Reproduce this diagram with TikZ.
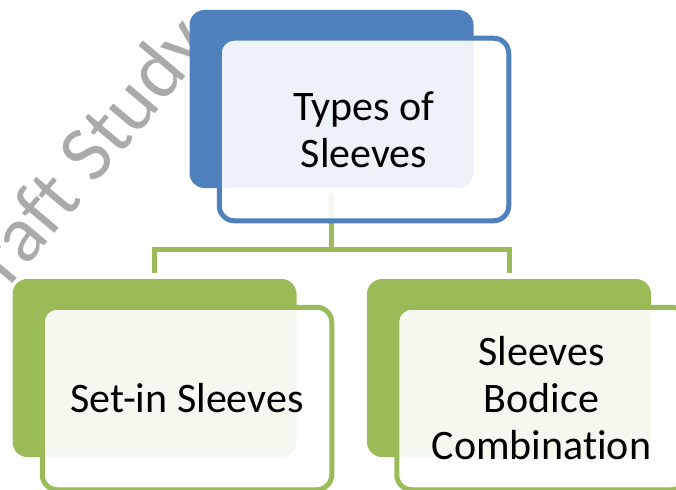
\documentclass[tikz,border=0pt]{standalone}
\usepackage{fontspec}
\setmainfont{Carlito}[Ligatures=NoCommon]
\definecolor{blueA}{RGB}{79,129,189}
\definecolor{greenA}{RGB}{155,187,89}
\definecolor{wmgray}{RGB}{170,170,170}
\begin{document}
\begin{tikzpicture}[x=1pt,y=-1pt,
  backbox/.style={rounded corners=15pt, minimum width=284pt, minimum height=178pt, inner sep=0pt, draw=none},
  frontbox/.style={rounded corners=15pt, minimum width=289.5pt, minimum height=182.5pt, inner sep=0pt, line width=5pt, fill=white, fill opacity=0.9, text opacity=1, align=center, font=\fontsize{42}{47}\selectfont, text=black},
  conn/.style={draw=greenA, line width=5pt}]
\useasboundingbox (0,0) rectangle (676,489);
\clip (0,0) rectangle (676,489);
% watermark
\node[rotate=50, anchor=base west, inner sep=0pt, text=wmgray, font=\fontsize{80}{80}\selectfont] (wm) at (9,288) {raft Study};
% back boxes
\node[backbox, fill=blueA] (tb) at (331.5,99) {};
\node[backbox, fill=greenA] (lb) at (154.5,368) {};
\node[backbox, fill=greenA] (rb) at (509,368) {};
% connectors
\coordinate (hub) at (331.5,249);
\draw[conn] ([yshift=-5pt]tb.south) -- (hub);
\draw[conn] ([yshift=6pt]lb.north) |- (hub) -| ([yshift=6pt]rb.north);
% front boxes
\node[frontbox, draw=blueA] (tf) at (364,129.5) {Types of\\Sleeves};
\node[frontbox, draw=greenA] (lf) at (187,398.5) {Set-in Sleeves};
\node[frontbox, draw=greenA] (rf) at (541.5,398.5) {Sleeves\\Bodice\\Combination};
\end{tikzpicture}
\end{document}
